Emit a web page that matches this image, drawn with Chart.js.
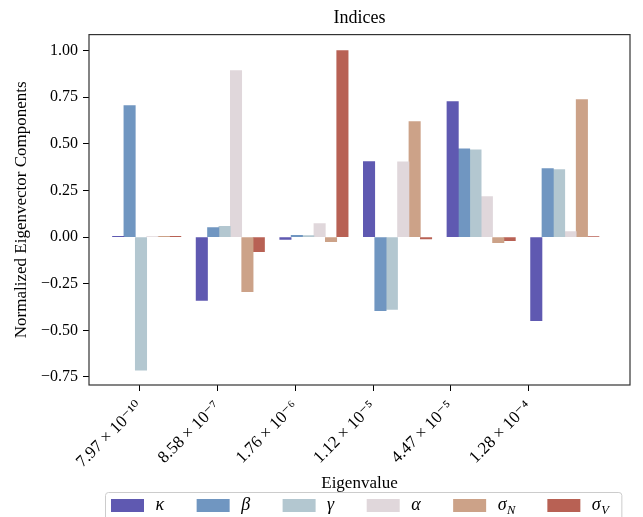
<!DOCTYPE html>
<html>
<head>
<meta charset="utf-8">
<script src="https://cdn.jsdelivr.net/npm/chart.js@4.4.1/dist/chart.umd.min.js"></script>
<style>
  html, body { margin: 0; padding: 0; background: #fff; }
</style>
</head>
<body>
<canvas id="grafico" width="643" height="517"></canvas>
<script>
// Dados
const rotulosX = ['7.97 × 10⁻¹⁰', '8.58 × 10⁻⁷', '1.76 × 10⁻⁶', '1.12 × 10⁻⁵', '4.47 × 10⁻⁵', '1.28 × 10⁻⁴'];
const posicoesTicksX = [-0.082, 0.847, 1.779, 2.707, 3.636, 4.569];
const grupos = [0, 1, 2, 3, 4, 5];
const ticksY = [-0.75, -0.5, -0.25, 0, 0.25, 0.5, 0.75, 1.0];

const series = ['κ', 'β', 'γ', 'α', 'σ_N', 'σ_V'];
const kappa  = [0.004, -0.340, -0.013, 0.405, 0.727, -0.448];
const beta   = [0.705, 0.051, 0.009, -0.394, 0.473, 0.367];
const gamma  = [-0.714, 0.058, 0.008, -0.388, 0.468, 0.362];
const alpha  = [0.003, 0.893, 0.072, 0.404, 0.217, 0.030];
const sigmaN = [0.004, -0.292, -0.024, 0.620, -0.030, 0.737];
const sigmaV = [0.004, -0.078, 1.000, -0.010, -0.019, 0.003];
const valores = [kappa, beta, gamma, alpha, sigmaN, sigmaV];
const cores = ['#5f59b1', '#7096c1', '#b3c7d0', '#e0d7db', '#cca288', '#b86154'];

const fonte = "'Liberation Serif', 'DejaVu Serif', serif";

// Moldura completa em volta da área do gráfico
const moldura = {
    id: 'moldura',
    afterDatasetsDraw(chart) {
        const a = chart.chartArea;
        const ctx = chart.ctx;
        ctx.save();
        ctx.strokeStyle = '#333';
        ctx.lineWidth = 1.2;
        ctx.strokeRect(a.left, a.top, a.right - a.left, a.bottom - a.top);
        ctx.restore();
    }
};

// Legenda no estilo do matplotlib (com subscrito)
const legenda = {
    id: 'legenda',
    afterDraw(chart) {
        const ctx = chart.ctx;
        const topo = 492;
        const caixaY = 499;
        const espaco = 32.5;
        let x = 111;
        ctx.save();
        const itens = chart.data.datasets.map(ds => {
            const [base, sub] = ds.label.split('_');
            ctx.font = 'italic 18px ' + fonte;
            const w = ctx.measureText(base).width;
            let ws = 0;
            if (sub) {
                ctx.font = 'italic 12.5px ' + fonte;
                ws = ctx.measureText(sub).width;
            }
            return { base, sub, w, ws, cor: ds.backgroundColor };
        });
        const posicoes = [];
        itens.forEach(it => {
            posicoes.push(x);
            x += 33 + 11.5 + it.w + it.ws + espaco;
        });
        const fim = x - espaco + 13;
        ctx.fillStyle = 'rgba(255,255,255,0.8)';
        ctx.strokeStyle = '#cccccc';
        ctx.lineWidth = 1;
        ctx.beginPath();
        ctx.roundRect(105.5, topo + 0.5, fim - 105, 50, 3);
        ctx.fill();
        ctx.stroke();
        itens.forEach((it, i) => {
            const px = posicoes[i];
            ctx.fillStyle = it.cor;
            ctx.fillRect(px, caixaY, 33, 13);
            ctx.fillStyle = '#000';
            ctx.textBaseline = 'alphabetic';
            ctx.font = 'italic 18px ' + fonte;
            ctx.fillText(it.base, px + 44.5, 510);
            if (it.sub) {
                ctx.font = 'italic 12.5px ' + fonte;
                ctx.fillText(it.sub, px + 45 + it.w, 514);
            }
        });
        ctx.restore();
    }
};

const ctx = document.getElementById('grafico').getContext('2d');
new Chart(ctx, {
    type: 'bar',
    data: {
        datasets: series.map((nome, i) => ({
            label: nome,
            data: grupos.map((g, j) => ({ x: g, y: valores[i][j] })),
            backgroundColor: cores[i],
            borderWidth: 0,
            barThickness: 11.4
        }))
    },
    options: {
        responsive: false,
        animation: false,
        layout: { padding: { left: 0, right: 13, top: 0, bottom: 25 } },
        plugins: {
            legend: { display: false },
            tooltip: { enabled: false },
            title: {
                display: true,
                text: 'Indices',
                fullSize: false,
                color: '#000',
                font: { family: fonte, size: 18, weight: 'normal' },
                padding: { top: 7, bottom: 6 }
            }
        },
        scales: {
            x: {
                type: 'linear',
                offset: false,
                min: -0.69,
                max: 5.78,
                afterBuildTicks: scale => {
                    scale.ticks = posicoesTicksX.map(v => ({ value: v }));
                },
                afterFit: scale => { scale.height = 107; },
                ticks: {
                    autoSkip: false,
                    minRotation: 45,
                    maxRotation: 45,
                    padding: 6,
                    color: '#000',
                    font: { family: fonte, size: 17 },
                    callback: (v, i) => rotulosX[i]
                },
                grid: { offset: false, drawOnChartArea: false, tickLength: 6, color: '#000' },
                border: { display: false },
                title: {
                    display: true,
                    text: 'Eigenvalue',
                    color: '#000',
                    font: { family: fonte, size: 17 },
                    padding: { top: 0, bottom: -2 }
                }
            },
            y: {
                min: -0.793,
                max: 1.086,
                afterBuildTicks: scale => {
                    scale.ticks = ticksY.map(v => ({ value: v }));
                },
                afterFit: scale => { scale.width = 89; },
                ticks: {
                    padding: 5,
                    color: '#000',
                    font: { family: fonte, size: 16 },
                    callback: v => (v < 0 ? '−' : '') + Math.abs(v).toFixed(2)
                },
                grid: { drawOnChartArea: false, tickLength: 6, color: '#000' },
                border: { display: false },
                title: {
                    display: true,
                    text: 'Normalized Eigenvector Components',
                    color: '#000',
                    font: { family: fonte, size: 17 },
                    padding: { top: 11, bottom: 0 }
                }
            }
        }
    },
    plugins: [moldura, legenda]
});
</script>
</body>
</html>
